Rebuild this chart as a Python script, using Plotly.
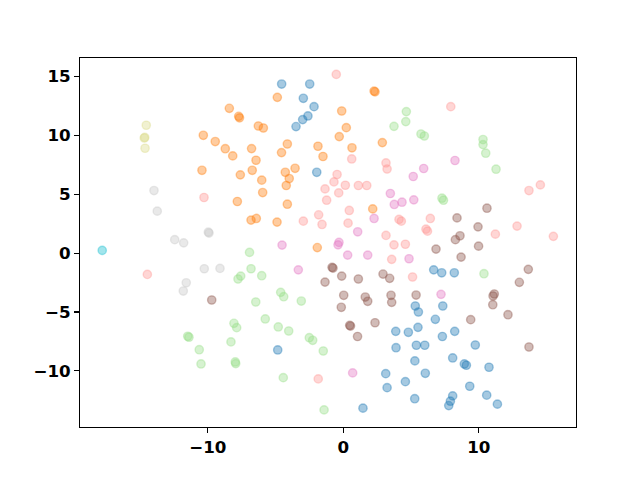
import plotly.graph_objects as go

# ---- data ----
blue_x = [-4.55, -2.48, -2.95, -2.16, -2.61, -3.0, -3.49, -1.96, -4.84, 6.67, 7.26, 8.19, 5.31, 5.54, 7.34, 6.79, 5.51, 8.22, 7.31, 3.87, 4.80, 1.45, 3.89, 5.39, 6.01, 5.28, 3.13, 4.58, 3.23, 5.27, 9.74, 8.07, 8.93, 9.08, 10.75, 6.05, 9.33, 10.58, 11.37, 8.07, 7.90, 7.78]
blue_y = [14.35, 14.35, 13.14, 12.43, 11.64, 11.33, 10.74, 6.86, -8.22, -1.42, -1.67, -1.67, -4.49, -5.0, -4.49, -5.62, -6.30, -6.64, -7.08, -6.64, -6.72, -13.16, -8.03, -7.82, -7.82, -9.15, -10.23, -10.91, -11.42, -12.36, -7.80, -8.90, -9.41, -9.52, -9.69, -10.20, -11.30, -12.06, -12.82, -12.12, -12.57, -12.94]

orange_x = [-8.41, -7.72, -7.66, -10.33, -9.45, -8.71, -6.77, -8.16, -4.87, 2.27, 2.34, -0.12, 0.22, -0.30, -6.27, -5.90, -4.13, -1.87, 0.64, 2.88, -4.56, -10.43, -7.60, -6.72, -7.82, -6.81, -6.42, -6.44, -4.28, -3.56, -3.99, -6.02, -4.21, -5.95, -4.13, -4.89, -1.50, 2.17, -1.92]
orange_y = [12.29, 11.61, 11.48, 10.0, 9.47, 8.86, 8.87, 8.25, 13.22, 13.75, 13.69, 12.06, 10.65, 9.89, 10.79, 10.62, 9.26, 9.07, 8.94, 9.38, 8.53, 7.03, 6.64, 7.03, 4.38, 2.80, 2.94, 7.88, 6.86, 7.20, 6.33, 6.19, 5.74, 5.14, 4.15, 2.63, 8.20, 3.75, 0.47]

green_x = [4.65, 4.61, 3.74, 5.73, 5.98, 10.31, 10.31, 10.51, 11.27, 7.28, 7.39, 10.38, -6.92, -6.81, -6.02, -7.77, -7.57, -4.62, -4.40, -6.46, -3.10, -5.76, -4.80, -4.03, -8.07, -7.87, -2.51, -2.26, -11.48, -11.39, -10.63, -10.50, -8.29, -7.97, -7.94, -1.48, -4.43, -1.42]
green_y = [12.01, 11.16, 10.76, 10.11, 9.94, 9.64, 9.21, 8.48, 7.12, 4.66, 4.49, -1.75, 0.06, -1.33, -1.92, -2.20, -1.95, -3.33, -3.70, -4.15, -4.07, -5.59, -6.27, -6.61, -5.96, -6.33, -7.18, -7.40, -7.06, -7.14, -8.20, -9.41, -7.54, -9.24, -9.38, -8.31, -10.57, -13.31]

lightred_x = [-0.52, 7.93, -10.28, -14.46, 0.62, 3.15, 3.23, -0.46, -0.69, 0.15, 1.11, 1.73, -1.35, -0.34, -1.23, 0.44, -2.95, -1.82, -1.57, 0.35, 4.11, 4.28, 3.15, 3.74, 4.58, 13.70, 14.54, 6.42, 6.10, 6.21, 12.82, 11.22, 15.50, 3.57, 5.11, -1.85]
lightred_y = [15.17, 12.43, 4.72, -1.81, 7.99, 7.65, 7.14, 6.67, 6.04, 5.76, 5.74, 5.74, 5.45, 5.11, 4.49, 3.62, 2.71, 3.25, 2.43, 2.54, 2.86, 2.71, 1.50, 0.70, 0.75, 5.31, 5.79, 2.94, 2.03, 1.86, 2.29, 1.61, 1.42, -0.53, -2.03, -10.68]

pink_x = [8.24, 5.93, 5.16, 3.47, 3.76, 4.33, 5.20, 2.27, 1.06, -4.52, -0.32, -0.39, 0.32, 1.80, -3.32, 4.85, 7.21, 0.69]
pink_y = [7.86, 7.18, 6.50, 5.06, 4.13, 4.32, 4.52, 2.94, 1.81, 0.68, 0.91, 0.70, -0.17, -0.17, -1.42, -0.48, -3.50, -10.17]

brown_x = [-9.71, 10.60, 8.39, 9.94, 8.61, 8.27, 9.98, 6.84, 8.69, 13.65, 12.99, 11.14, 11.05, 11.03, 12.15, 9.40, 5.37, 13.70, -0.83, -0.76, -0.12, 1.11, 2.93, 3.42, -1.35, 0.03, 1.62, 1.80, 3.52, 3.57, -0.15, 2.34, 0.47, 0.53, 1.05]
brown_y = [-3.98, 3.81, 2.99, 2.23, 1.47, 1.14, 0.59, 0.34, -0.34, -1.38, -2.48, -3.47, -3.64, -4.38, -5.23, -5.65, -3.56, -7.97, -1.21, -1.27, -1.95, -2.20, -1.78, -2.14, -2.46, -3.58, -3.73, -4.09, -3.58, -4.18, -4.60, -5.91, -6.13, -6.19, -7.08]

gray_x = [-13.97, -13.73, -9.96, -9.91, -12.44, -11.78, -10.26, -9.10, -11.59, -11.81]
gray_y = [5.31, 3.56, 1.78, 1.70, 1.14, 0.87, -1.33, -1.30, -2.52, -3.22]

olive_x = [-14.54, -14.69, -14.65, -14.63]
olive_y = [10.85, 9.77, 9.82, 8.90]

cyan_x = [-17.79]
cyan_y = [0.23]

series = [
    (blue_x, blue_y, (31, 119, 180)),
    (orange_x, orange_y, (255, 127, 14)),
    (green_x, green_y, (152, 223, 138)),
    (lightred_x, lightred_y, (255, 152, 150)),
    (pink_x, pink_y, (227, 119, 194)),
    (brown_x, brown_y, (140, 86, 75)),
    (gray_x, gray_y, (199, 199, 199)),
    (olive_x, olive_y, (219, 219, 141)),
    (cyan_x, cyan_y, (23, 190, 207)),
]

fig = go.Figure()
for xs, ys, (r, g, b) in series:
    col = f"rgba({r},{g},{b},0.4)"
    fig.add_trace(go.Scatter(
        x=xs, y=ys, mode="markers",
        marker=dict(size=8.3, color=col, line=dict(color=col, width=1.4)),
        showlegend=False, hoverinfo="skip",
    ))

tickfont = dict(family="DejaVu Sans", size=16.7, color="black", weight="bold")
axis_common = dict(
    showgrid=False, zeroline=False, showline=True, linecolor="black",
    linewidth=1.1, mirror=True, ticks="outside", ticklen=4.9, tickwidth=1.1,
    tickcolor="black", tickfont=tickfont,
)
fig.update_xaxes(range=[-19.43, 17.17], tickvals=[-10, 0, 10], **axis_common)
fig.update_yaxes(range=[-14.76, 16.56], tickvals=[-10, -5, 0, 5, 10, 15], **axis_common)

fig.update_layout(
    width=640, height=480,
    margin=dict(l=80, r=64, t=58, b=53, pad=0),
    plot_bgcolor="white", paper_bgcolor="white",
)

fig.write_html(
    "out.html",
    config={"displayModeBar": False, "staticPlot": True},
    post_script="document.body.style.margin='0px';document.body.style.overflow='hidden';",
)
